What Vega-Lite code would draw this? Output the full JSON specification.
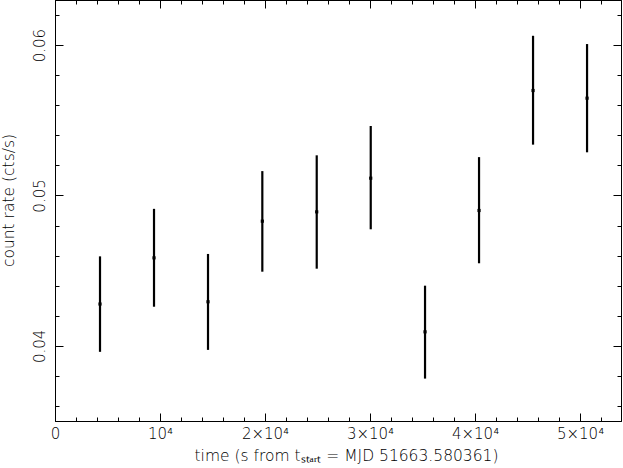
{
  "$schema": "https://vega.github.io/schema/vega-lite/v6.json",
  "width": 566,
  "height": 421,
  "autosize": {"type": "none"},
  "padding": {"left": 55, "top": 0, "right": 2, "bottom": 47},
  "background": "white",
  "config": {
    "view": {"stroke": "black", "strokeWidth": 1},
    "font": "DejaVu Sans",
    "axis": {
      "grid": false,
      "domainColor": "black",
      "tickColor": "black",
      "labelColor": "black",
      "titleColor": "black",
      "labelFont": "DejaVu Sans",
      "titleFont": "DejaVu Sans",
      "labelFontSize": 15,
      "titleFontSize": 15.5,
      "labelFontWeight": 300,
      "titleFontWeight": 300,
      "labelOverlap": false,
      "labelFlush": false
    }
  },
  "data": {
    "values": [
      {"time": 4286, "rate": 0.04278, "lo": 0.03960, "hi": 0.04595},
      {"time": 9429, "rate": 0.04585, "lo": 0.04260, "hi": 0.04911},
      {"time": 14571, "rate": 0.04293, "lo": 0.03973, "hi": 0.04611},
      {"time": 19743, "rate": 0.04829, "lo": 0.04493, "hi": 0.05162},
      {"time": 24924, "rate": 0.04891, "lo": 0.04513, "hi": 0.05267},
      {"time": 30067, "rate": 0.05115, "lo": 0.04775, "hi": 0.05462},
      {"time": 35238, "rate": 0.04093, "lo": 0.03782, "hi": 0.04400},
      {"time": 40381, "rate": 0.04900, "lo": 0.04549, "hi": 0.05255},
      {"time": 45524, "rate": 0.05698, "lo": 0.05338, "hi": 0.06062},
      {"time": 50667, "rate": 0.05647, "lo": 0.05287, "hi": 0.06007}
    ]
  },
  "layer": [
    {
      "mark": {"type": "rule", "strokeWidth": 2.2, "color": "black"},
      "encoding": {
        "x": {
          "field": "time", "type": "quantitative",
          "scale": {"domain": [0, 53900], "nice": false, "zero": false},
          "axis": {
            "orient": "bottom",
            "title": "time (s from tₛₜₐᵣₜ = MJD 51663.580361)",
            "titlePadding": 3,
            "titleX": 291,
            "values": [0,2000,4000,6000,8000,10000,12000,14000,16000,18000,20000,22000,24000,26000,28000,30000,32000,34000,36000,38000,40000,42000,44000,46000,48000,50000,52000],
            "tickSize": {"condition": {"test": "datum.value % 10000 === 0", "value": -8}, "value": -4},
            "labelPadding": 13,
            "labelExpr": "datum.value === 0 ? '0' : (datum.value === 10000 ? '10⁴' : (datum.value % 10000 === 0 ? (datum.value / 10000) + '×10⁴' : ''))"
          }
        },
        "y": {
          "field": "lo", "type": "quantitative",
          "scale": {"domain": [0.035, 0.063], "nice": false, "zero": false},
          "axis": {
            "orient": "left",
            "title": "count rate (cts/s)",
            "titlePadding": 12,
            "titleY": 200,
            "values": [0.036,0.038,0.040,0.042,0.044,0.046,0.048,0.050,0.052,0.054,0.056,0.058,0.060,0.062],
            "tickSize": {"condition": {"test": "abs(datum.value * 100 - round(datum.value * 100)) < 0.000001", "value": -8}, "value": -4},
            "labelAngle": -90,
            "labelAlign": "center",
            "labelBaseline": "bottom",
            "labelPadding": 16,
            "labelExpr": "abs(datum.value * 100 - round(datum.value * 100)) < 0.000001 ? format(datum.value, '.2f') : ''"
          }
        },
        "y2": {"field": "hi"}
      }
    },
    {
      "mark": {"type": "point", "shape": "square", "filled": true, "size": 10, "color": "black", "opacity": 1},
      "encoding": {
        "x": {
          "field": "time", "type": "quantitative",
          "axis": {
            "orient": "top",
            "title": null,
            "values": [0,2000,4000,6000,8000,10000,12000,14000,16000,18000,20000,22000,24000,26000,28000,30000,32000,34000,36000,38000,40000,42000,44000,46000,48000,50000,52000],
            "tickSize": {"condition": {"test": "datum.value % 10000 === 0", "value": -8}, "value": -4},
            "labels": false
          }
        },
        "y": {
          "field": "rate", "type": "quantitative",
          "axis": {
            "orient": "right",
            "title": null,
            "values": [0.036,0.038,0.040,0.042,0.044,0.046,0.048,0.050,0.052,0.054,0.056,0.058,0.060,0.062],
            "tickSize": {"condition": {"test": "abs(datum.value * 100 - round(datum.value * 100)) < 0.000001", "value": -8}, "value": -4},
            "labels": false
          }
        }
      }
    }
  ],
  "resolve": {"axis": {"x": "independent", "y": "independent"}}
}
